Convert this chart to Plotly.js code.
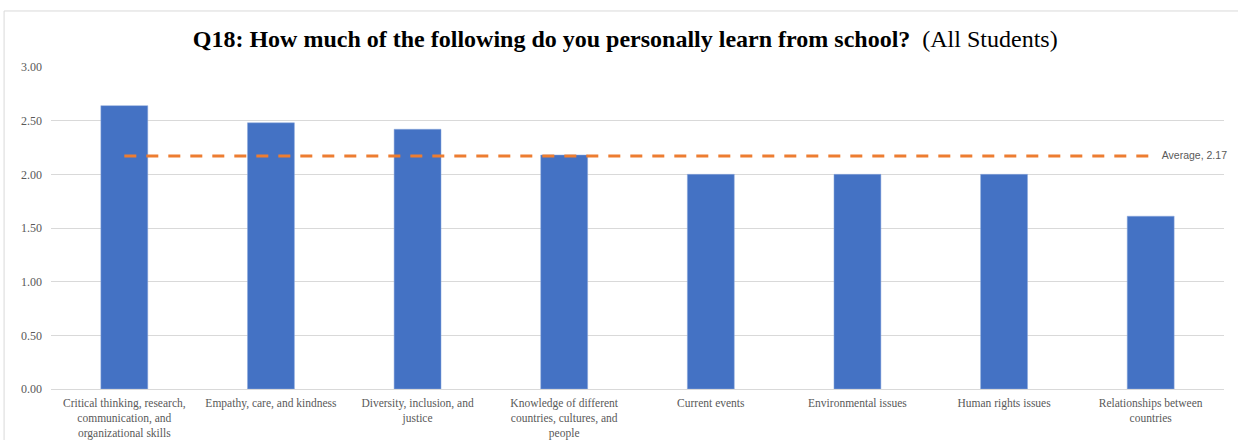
<!DOCTYPE html>
<html><head><meta charset="utf-8">
<script src="https://cdn.plot.ly/plotly-3.0.1.min.js"></script>
<style>html,body{margin:0;padding:0;background:#fff}#chart{width:1238px;height:440px}</style>
</head><body><div id="chart"></div>
<script>
const categories = [
  "Critical thinking, research,<br>communication, and<br>organizational skills",
  "Empathy, care, and kindness",
  "Diversity, inclusion, and<br>justice",
  "Knowledge of different<br>countries, cultures, and<br>people",
  "Current events",
  "Environmental issues",
  "Human rights issues",
  "Relationships between<br>countries"
];
const scores = [2.64, 2.48, 2.42, 2.18, 2.00, 2.00, 2.00, 1.61];
const averageValue = 2.17;
const averageLine = categories.map(() => averageValue);
const yTicks = [0, 0.5, 1, 1.5, 2, 2.5, 3];

const serif = 'Liberation Serif';
const traces = [
  {type:'bar', x:categories, y:scores, width:0.32,
   marker:{color:'#4472C4', line:{color:'#8FAADC', width:0.5}}, hoverinfo:'skip'},
  {type:'scatter', mode:'lines+text', x:categories, y:averageLine,
   line:{color:'#ED7D31', width:3, dash:'12px,10px'},
   text: averageLine.map((v,i)=> i===averageLine.length-1 ? '    Average, '+v.toFixed(2) : ''),
   textposition:'middle right',
   textfont:{family:'Liberation Sans', size:10.5, color:'#595959'},
   cliponaxis:false, hoverinfo:'skip'}
];

const layout = {
  width:1238, height:440,
  margin:{l:51, r:14, t:67, b:51},
  paper_bgcolor:'#fff', plot_bgcolor:'#fff',
  showlegend:false,
  title:{text:'<b>Q18: How much of the following do you personally learn from school?</b>  (All Students)',
         x:0.505, xanchor:'center', y:0.912, yanchor:'middle',
         font:{family:serif, size:24, color:'#000'}},
  xaxis:{type:'category', tickfont:{family:serif, size:11.5, color:'#595959'},
         showline:true, linecolor:'#D9D9D9', linewidth:1, ticks:'', showgrid:false,
         ticklabelstandoff:3,
         range:[-0.5, categories.length-0.5], fixedrange:true},
  yaxis:{range:[0,3], tickvals:yTicks, ticktext:yTicks.map(v=>v.toFixed(2)),
         tickfont:{family:serif, size:12, color:'#595959'},
         showgrid:true, gridcolor:'#D9D9D9', gridwidth:1, zeroline:false, showline:false,
         ticks:'', ticklen:0, ticklabelstandoff:8, fixedrange:true},
  shapes:[{type:'rect', xref:'paper', yref:'paper', x0:-0.04, x1:1.02, y0:-0.3, y1:1.174,
           line:{color:'#D9D9D9', width:1}, fillcolor:'rgba(0,0,0,0)', layer:'below'}]
};
Plotly.newPlot('chart', traces, layout, {displayModeBar:false, staticPlot:true});
</script></body></html>
